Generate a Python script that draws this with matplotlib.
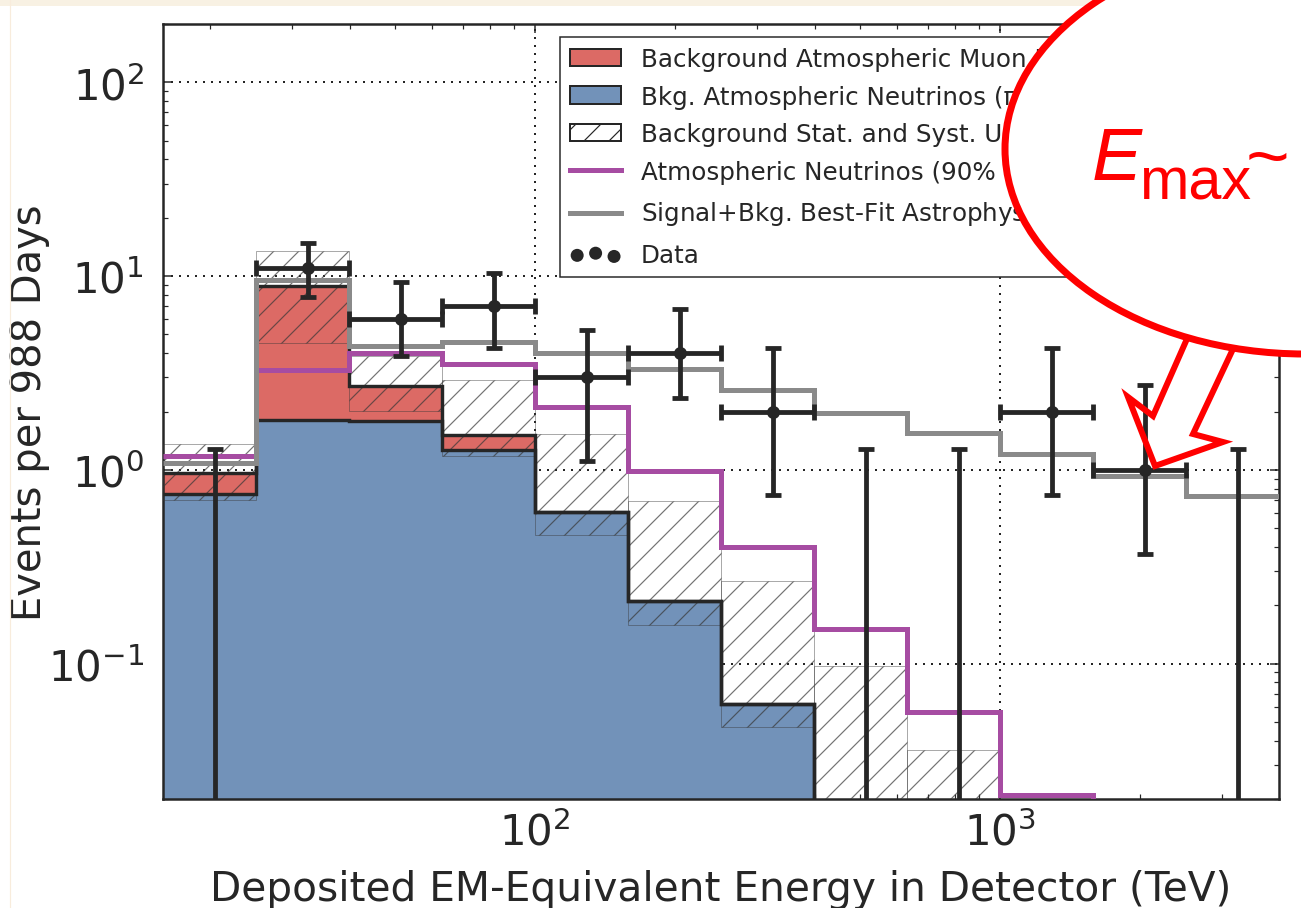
import numpy as np
import matplotlib
matplotlib.use("Agg")
import matplotlib.pyplot as plt
from matplotlib.patches import Patch, Ellipse, Polygon, Rectangle
from matplotlib.lines import Line2D

# ---------------- data ----------------
bin_edges = [15.85, 25.12, 39.81, 63.10, 100.0, 158.5, 251.2, 398.1,
             631.0, 1000.0, 1585.0, 2512.0, 3981.0]
atm_nu = [0.75, 1.81, 1.79, 1.27, 0.606, 0.21, 0.062, 0, 0, 0, 0, 0]
atm_mu = [0.215, 7.12, 0.93, 0.25, 0, 0, 0, 0, 0, 0, 0, 0]
unc_lo = [0.70, 4.53, 2.02, 1.18, 0.46, 0.158, 0.047, 0.0, 0.0]
unc_hi = [1.36, 13.4, 3.88, 2.92, 1.53, 0.69, 0.267, 0.097, 0.036]
charm_limit = [1.18, 3.28, 4.0, 3.53, 2.12, 0.99, 0.40, 0.15, 0.056, 0.021, 0, 0]
best_fit = [1.09, 9.6, 4.37, 4.58, 4.02, 3.33, 2.59, 1.97, 1.55, 1.21, 0.93, 0.73]
data_x = [20.5, 32.5, 51.5, 81.6, 129.2, 204.9, 324.6, 514.5, 815.5, 1292.0, 2049.0, 3247.0]
data_n = [0, 11, 6, 7, 3, 4, 2, 0, 0, 2, 1, 0]
data_lo = [0, 7.84, 3.88, 4.27, 1.11, 2.36, 0.74, 0, 0, 0.74, 0.368, 0]
data_hi = [1.28, 14.9, 9.36, 10.4, 5.28, 6.77, 4.27, 1.28, 1.28, 4.27, 2.75, 1.28]

labels = ["Background Atmospheric Muon Flux",
          "Bkg. Atmospheric Neutrinos (\u03c0/K)",
          "Background Stat. and Syst. Uncertainty",
          "Atmospheric Neutrinos (90% CL Charm Limit)",
          "Signal+Bkg. Best-Fit Astrophysical (E$^{-2}$)",
          "Data"]
xlabel = "Deposited EM-Equivalent Energy in Detector (TeV)"
ylabel = "Events per 988 Days"

# ---------------- style ----------------
W, H, DPI = 1301, 909, 150
PX = 72.0 / DPI  # points per pixel
dark = "#262626"
red = "#dc6a65"
blue = "#7292b9"
purple = "#a64ca2"
grey = "#8a8a8a"

plt.rcParams["font.family"] = ["DejaVu Sans"]
plt.rcParams["hatch.linewidth"] = 1.2 * PX
plt.rcParams["text.color"] = dark
plt.rcParams["axes.labelcolor"] = dark
plt.rcParams["axes.unicode_minus"] = False

fig = plt.figure(figsize=(W / DPI, H / DPI), dpi=DPI, facecolor="white")


def fx(x):
    return x / W


def fy(y):
    return 1 - y / H


ax = fig.add_axes([fx(163), fy(800), fx(1279) - fx(163), fy(25) - fy(800)])
ax.set_xscale("log")
ax.set_yscale("log")

edges = np.array(bin_edges)
left = edges[:-1]
widths = np.diff(edges)
floor = 1e-4

nu = np.maximum(np.array(atm_nu, float), floor)
mu = np.array(atm_mu, float)
tot = nu + mu

ax.bar(left, nu - floor, bottom=floor, width=widths, align="edge",
       color=blue, lw=0, zorder=2)
ax.bar(left, mu, bottom=nu, width=widths, align="edge", color=red, lw=0, zorder=2)

lo = np.maximum(np.array(unc_lo, float), floor)
hi = np.array(unc_hi, float)
nb = len(hi)
ax.bar(left[:nb], hi - lo, bottom=lo, width=widths[:nb], align="edge",
       facecolor="none", edgecolor=(0.22, 0.22, 0.22, 0.7), hatch="//",
       lw=0.6 * PX, zorder=3)

ax.stairs(nu, edges, baseline=None, color=dark, lw=3.4 * PX, zorder=4)
ax.stairs(tot, edges, baseline=None, color=dark, lw=3.4 * PX, zorder=4)

ax.stairs(np.maximum(np.array(charm_limit, float), floor), edges, baseline=None,
          color=purple, lw=5 * PX, zorder=5)
ax.stairs(np.array(best_fit, float), edges, baseline=None,
          color=grey, lw=5 * PX, zorder=5)

# data
dx = np.array(data_x)
dn = np.array(data_n, float)
dlo = np.array(data_lo, float)
dhi = np.array(data_hi, float)
nz = dn > 0
z = ~nz
ebkw = dict(fmt="none", ecolor=dark, elinewidth=4.8 * PX, capsize=8 * PX,
            capthick=4.8 * PX, zorder=6)
ax.errorbar(dx[nz], dn[nz], yerr=[dn[nz] - dlo[nz], dhi[nz] - dn[nz]],
            xerr=[dx[nz] - left[nz], edges[1:][nz] - dx[nz]], **ebkw)
ax.errorbar(dx[z], np.full(z.sum(), floor), yerr=[np.zeros(z.sum()), dhi[z] - floor], **ebkw)
sc = ax.scatter(dx[nz], dn[nz], s=(13 * PX) ** 2, color=dark, zorder=7, lw=0)

ax.set_xlim(edges[0], edges[-1])
ax.set_ylim(0.02, 200)

for s in ax.spines.values():
    s.set_color(dark)
    s.set_linewidth(2.5 * PX)
ax.tick_params(which="both", direction="in", top=True, right=True, colors=dark)
ax.tick_params(which="major", length=9 * PX, width=1.5 * PX, labelsize=20.2, pad=9)
ax.tick_params(which="minor", length=5 * PX, width=1.2 * PX)
ax.tick_params(axis="x", which="major", pad=6)
ax.grid(True, which="major", color=dark, lw=2 * PX, linestyle=(0, (1, 3)))
for gl in ax.get_xgridlines() + ax.get_ygridlines():
    gl.set_zorder(1.5)

ax.set_xlabel(xlabel, fontsize=19.5, labelpad=7)
ax.set_ylabel(ylabel, fontsize=19.2)
ax.yaxis.set_label_coords((50 - 163) / (1279 - 163), 0.5)

handles = [Patch(facecolor=red, edgecolor=dark, lw=2 * PX),
           Patch(facecolor=blue, edgecolor=dark, lw=2 * PX),
           Patch(facecolor="white", edgecolor=dark, hatch="//", lw=2 * PX),
           Line2D([], [], color=purple, lw=5 * PX),
           Line2D([], [], color=grey, lw=5 * PX),
           sc]
leg = ax.legend(handles, labels, loc="upper left", bbox_to_anchor=(0.3557, 0.983),
                fontsize=11.8, frameon=True, fancybox=False, edgecolor=dark,
                framealpha=1, borderpad=0.4, labelspacing=0.55, handlelength=2.1,
                handletextpad=0.8, scatterpoints=3, borderaxespad=0)
leg.get_frame().set_linewidth(1.5 * PX)
leg.set_zorder(8)

# ---------------- annotation overlay ----------------
fig.add_artist(Rectangle((0, fy(7)), 1, 7 / H, transform=fig.transFigure,
                         facecolor="#f8f1e3", lw=0, zorder=0.5))
fig.add_artist(Line2D([fx(10), fx(10)], [0, 1], transform=fig.transFigure,
                      color="#f8ecdc", lw=1.2 * PX, zorder=0.5))

arrow_pts = [(1190, 333), (1153, 417), (1128, 398), (1155, 467),
             (1223, 443), (1193, 435), (1233, 350)]
fig.add_artist(Polygon([(fx(x), fy(y)) for x, y in arrow_pts], closed=True,
                       fill=False, edgecolor="#ff0000", lw=6 * PX,
                       joinstyle="miter", transform=fig.transFigure, zorder=10))
fig.add_artist(Ellipse((fx(1305), fy(150)), 600 / W, 410 / H,
                       transform=fig.transFigure, facecolor="white",
                       edgecolor="#ff0000", lw=7 * PX, zorder=11))
fig.text(fx(1092), fy(180), "E", color="#ff0000", fontsize=36, fontstyle="italic",
         family="Liberation Sans", va="baseline", ha="left", zorder=12)
fig.text(fx(1139), fy(200), "max", color="#ff0000", fontsize=28.5,
         family="Liberation Sans", va="baseline", ha="left", zorder=12)
fig.text(fx(1246), fy(181), "~", color="#ff0000", fontsize=36,
         family="Liberation Sans", va="baseline", ha="left", zorder=12)

fig.savefig("out.png", dpi=DPI, facecolor="white")
